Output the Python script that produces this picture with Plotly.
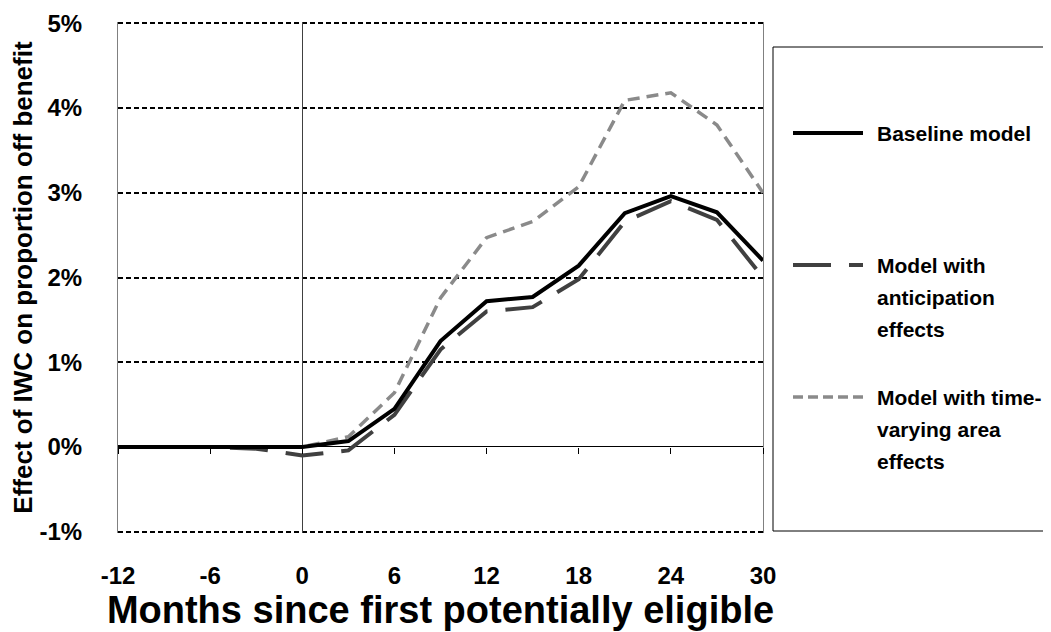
import plotly.graph_objects as go

months = [-12, -9, -6, -3, 0, 3, 6, 9, 12, 15, 18, 21, 24, 27, 30]
baseline = [0.0, 0.0, 0.0, 0.0, 0.0, 0.07, 0.45, 1.25, 1.72, 1.77, 2.14, 2.76, 2.96, 2.77, 2.20]
anticipation = [0.0, 0.0, 0.0, -0.02, -0.10, -0.04, 0.38, 1.15, 1.60, 1.65, 1.98, 2.66, 2.90, 2.68, 2.00]
time_varying = [0.0, 0.0, 0.0, 0.0, 0.0, 0.12, 0.64, 1.76, 2.47, 2.66, 3.07, 4.09, 4.18, 3.80, 3.00]

x_ticks = [-12, -6, 0, 6, 12, 18, 24, 30]
y_ticks = [-1, 0, 1, 2, 3, 4, 5]
y_tick_labels = ["-1%", "0%", "1%", "2%", "3%", "4%", "5%"]

legend_lines = [["Baseline model"],
                ["Model with", "anticipation", "effects"],
                ["Model with time-", "varying area", "effects"]]

FONT = "Arial, Liberation Sans, sans-serif"
C_BASE = "#000000"
C_ANT = "#404040"
C_TV = "#8a8a8a"
DASH_ANT = "38px,18px"
DASH_TV = "12px,7px"

fig = go.Figure()
fig.add_trace(go.Scatter(x=months, y=time_varying, mode="lines",
                         line=dict(color=C_TV, width=3.5, dash=DASH_TV),
                         showlegend=False, hoverinfo="skip"))
fig.add_trace(go.Scatter(x=months, y=anticipation, mode="lines",
                         line=dict(color=C_ANT, width=4, dash=DASH_ANT),
                         showlegend=False, hoverinfo="skip"))
fig.add_trace(go.Scatter(x=months, y=baseline, mode="lines",
                         line=dict(color=C_BASE, width=4),
                         showlegend=False, hoverinfo="skip"))
# helper trace so the tick-only axis on the zero line is drawn
fig.add_trace(go.Scatter(x=[months[0], months[-1]], y=[0, 0], xaxis="x2", mode="lines",
                         line=dict(width=0, color="rgba(0,0,0,0)"),
                         showlegend=False, hoverinfo="skip"))

Y_LO, Y_HI = -1.015, 5.015
zero_pos = (0 - Y_LO) / (Y_HI - Y_LO)

fig.update_layout(
    width=1051, height=632,
    margin=dict(l=110, r=296, t=14, b=107),
    paper_bgcolor="white", plot_bgcolor="white",
    font=dict(family=FONT, color="black"),
    showlegend=False,
    xaxis=dict(
        range=[-12, 30], tickvals=x_ticks, ticktext=[str(v) for v in x_ticks],
        showgrid=False, zeroline=True, zerolinecolor="#404040", zerolinewidth=1,
        showline=False, ticks="", ticklabelstandoff=26, automargin=False,
        tickfont=dict(size=24, family=FONT, weight="bold", color="black"),
        title=dict(text="<b>Months since first potentially eligible</b>",
                   font=dict(size=38, family=FONT, color="black"), standoff=1),
    ),
    xaxis2=dict(
        range=[-12, 30], overlaying="x", anchor="free", position=zero_pos,
        tickvals=x_ticks, showticklabels=False, ticks="outside", ticklen=6,
        tickcolor="black", tickwidth=1, showgrid=False, zeroline=False, showline=False,
        automargin=False,
    ),
    yaxis=dict(
        range=[Y_LO, Y_HI], tickvals=y_ticks, ticktext=y_tick_labels,
        showgrid=True, gridcolor="black", gridwidth=1.6, griddash="5px,3px",
        zeroline=True, zerolinecolor="black", zerolinewidth=1.3,
        showline=True, mirror=True, linecolor="#808080", linewidth=1,
        ticks="", ticklabelstandoff=30, automargin=False,
        tickfont=dict(size=24, family=FONT, weight="bold", color="black"),
        title=dict(text="<b>Effect of IWC on proportion off benefit</b>",
                   font=dict(size=26, family=FONT, color="black"), standoff=8),
    ),
)

# legend box (paper coordinates derived from the plot-area pixel frame)
PL, PR, PT, PB = 118, 763, 22, 533


def px_x(px):
    return (px - PL) / (PR - PL)


def px_y(py):
    return (PB - py) / (PB - PT)


fig.add_shape(type="rect", xref="paper", yref="paper",
              x0=px_x(773), x1=px_x(1100), y0=px_y(531), y1=px_y(47),
              line=dict(color="black", width=1), fillcolor="rgba(0,0,0,0)", layer="below")

legend_rows = [133, 265, 397]
LINE_GAP = 32
styles = [dict(color=C_BASE, width=4, dash="solid"),
          dict(color=C_ANT, width=4, dash=DASH_ANT),
          dict(color=C_TV, width=3.5, dash="10px,5px")]
for lines, row, st in zip(legend_lines, legend_rows, styles):
    fig.add_shape(type="line", xref="paper", yref="paper",
                  x0=px_x(793), x1=px_x(863), y0=px_y(row), y1=px_y(row), line=st)
    for i, txt in enumerate(lines):
        fig.add_annotation(xref="paper", yref="paper", x=px_x(875), y=px_y(row + i * LINE_GAP),
                           xanchor="left", yanchor="middle", align="left", showarrow=False,
                           text="<b>" + txt + "</b>",
                           font=dict(size=21, family=FONT, color="black"))

fig.write_html("out.html")
